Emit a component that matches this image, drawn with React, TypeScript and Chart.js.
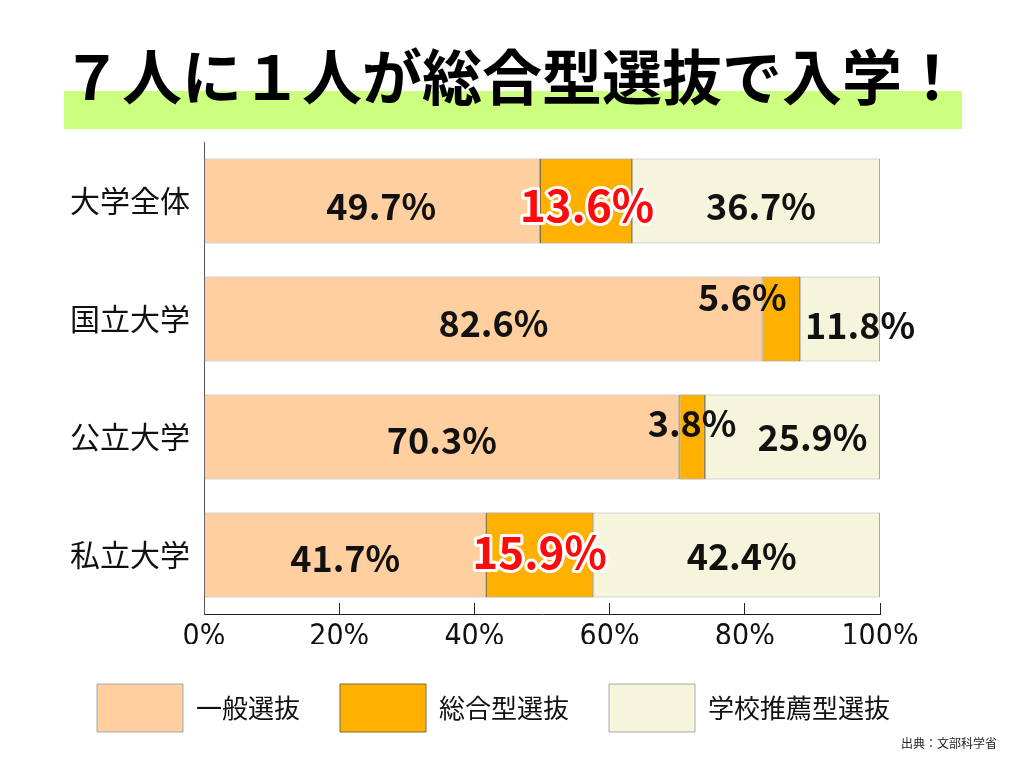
import React, { useEffect, useRef } from "react";
import { Chart, registerables } from "chart.js";

Chart.register(...registerables);

const categories = ["大学全体", "国立大学", "公立大学", "私立大学"];
const seriesNames = ["一般選抜", "総合型選抜", "学校推薦型選抜"];
const generalValues = [49.7, 82.6, 70.3, 41.7];
const comprehensiveValues = [13.6, 5.6, 3.8, 15.9];
const recommendValues = [36.7, 11.8, 25.9, 42.4];
const xTicks = [0, 20, 40, 60, 80, 100];
const titleText = "７人に１人が総合型選抜で入学！";
const sourceText = "出典：文部科学省";

const seriesColors = ["#FFCF9F", "#FFB000", "#F5F5DC"];
const seriesBorders = ["#a8a8a8", "#7a6a3a", "#a8a8a8"];

// label nudges [dataset][category] = [dx, dy]
const labelNudges = [
  [[9, 5], [10, 4], [0, 3], [0, 3]],
  [[1, 4], [-39, -22], [0, -14], [0, -3]],
  [[5, 5], [20, 6], [20, 0], [5, 1]],
];

const JP = '"Noto Sans CJK JP", "Noto Sans", sans-serif';

const decorPlugin = {
  id: "decor",
  beforeDraw(chart: any) {
    const ctx = chart.ctx;
    ctx.save();
    ctx.fillStyle = "#CCFF80";
    ctx.fillRect(64, 91, 898, 38);
    ctx.restore();
  },
  afterDraw(chart: any) {
    const ctx = chart.ctx;
    ctx.save();
    ctx.fillStyle = "#000";
    ctx.font = `bold 60px ${JP}`;
    ctx.textAlign = "center";
    ctx.textBaseline = "middle";
    ctx.fillText(titleText, 512, 77);
    ctx.font = `12px ${JP}`;
    ctx.fillStyle = "#222";
    ctx.textAlign = "right";
    ctx.fillText(sourceText, 997, 743);
    ctx.restore();
  },
};

const labelPlugin = {
  id: "segLabels",
  afterDatasetsDraw(chart: any) {
    const ctx = chart.ctx;
    ctx.save();
    ctx.textAlign = "center";
    ctx.textBaseline = "middle";
    chart.data.datasets.forEach((ds: any, di: number) => {
      const meta = chart.getDatasetMeta(di);
      meta.data.forEach((bar: any, i: number) => {
        const v = ds.data[i];
        const { x, y, base } = bar.getProps(["x", "y", "base"], true);
        const cx = (x + base) / 2 + labelNudges[di][i][0];
        const cy = y + labelNudges[di][i][1];
        const txt = v.toFixed(1) + "%";
        const highlight = di === 1 && v > 10;
        if (highlight) {
          ctx.font = `bold 44px ${JP}`;
          ctx.lineJoin = "round";
          ctx.lineWidth = 6;
          ctx.strokeStyle = "#ffffff";
          ctx.strokeText(txt, cx, cy);
          ctx.fillStyle = "#FF0A0A";
          ctx.fillText(txt, cx, cy);
        } else {
          ctx.font = `bold 36px ${JP}`;
          ctx.fillStyle = "#111";
          ctx.fillText(txt, cx, cy);
        }
      });
    });
    ctx.restore();
  },
};

export default function App() {
  const ref = useRef<HTMLCanvasElement>(null);
  useEffect(() => {
    if (!ref.current) return;
    const values = [generalValues, comprehensiveValues, recommendValues];
    const chart = new Chart(ref.current, {
      type: "bar",
      data: {
        labels: categories,
        datasets: seriesNames.map((name, i) => ({
          label: name,
          data: values[i],
          backgroundColor: seriesColors[i],
          borderColor: seriesBorders[i],
          borderWidth: 1,
          borderSkipped: false,
          categoryPercentage: 1,
          barPercentage: 0.72,
        })),
      },
      options: {
        indexAxis: "y",
        animation: false,
        responsive: false,
        devicePixelRatio: 1,
        layout: { padding: { top: 142, left: 57, right: 0, bottom: 26 } },
        plugins: {
          title: { display: false },
          tooltip: { enabled: false },
          legend: {
            position: "bottom",
            align: "start",
            labels: {
              boxWidth: 86,
              boxHeight: 48,
              padding: 40,
              color: "#111",
              font: { family: JP, size: 26 },
            },
          },
        },
        scales: {
          x: {
            stacked: true,
            min: 0,
            max: 100,
            afterBuildTicks: (s: any) => {
              s.ticks = xTicks.map((v) => ({ value: v }));
            },
            afterFit: (s: any) => {
              s.height = 30;
            },
            ticks: {
              padding: 16,
              color: "#111",
              font: { family: '"Liberation Sans Narrow", "DejaVu Sans Condensed", "Noto Sans", sans-serif', size: 30 },
              callback: (v: any) => v + "%",
            },
            grid: {
              display: true,
              drawOnChartArea: false,
              drawTicks: true,
              tickLength: -11,
              color: "#222",
            },
            border: { display: true, color: "#222", width: 1 },
          },
          y: {
            stacked: true,
            afterFit: (s: any) => {
              s.width = 204 - 57;
            },
            ticks: {
              padding: 14,
              color: "#111",
              font: { family: JP, size: 30 },
            },
            grid: { display: true, drawOnChartArea: false, drawTicks: false },
            border: { display: true, color: "#555", width: 1 },
          },
          yR: {
            position: "right",
            display: true,
            afterFit: (s: any) => {
              s.width = 144;
            },
            ticks: { display: false },
            grid: { display: false },
            border: { display: false },
          },
        },
      },
      plugins: [decorPlugin, labelPlugin],
    } as any);
    return () => chart.destroy();
  }, []);
  return (
    <div style={{ position: "absolute", left: 0, top: 0, width: 1024, height: 768, overflow: "hidden", background: "#fff" }}>
      <canvas ref={ref} width={1024} height={768} style={{ display: "block" }} />
    </div>
  );
}
